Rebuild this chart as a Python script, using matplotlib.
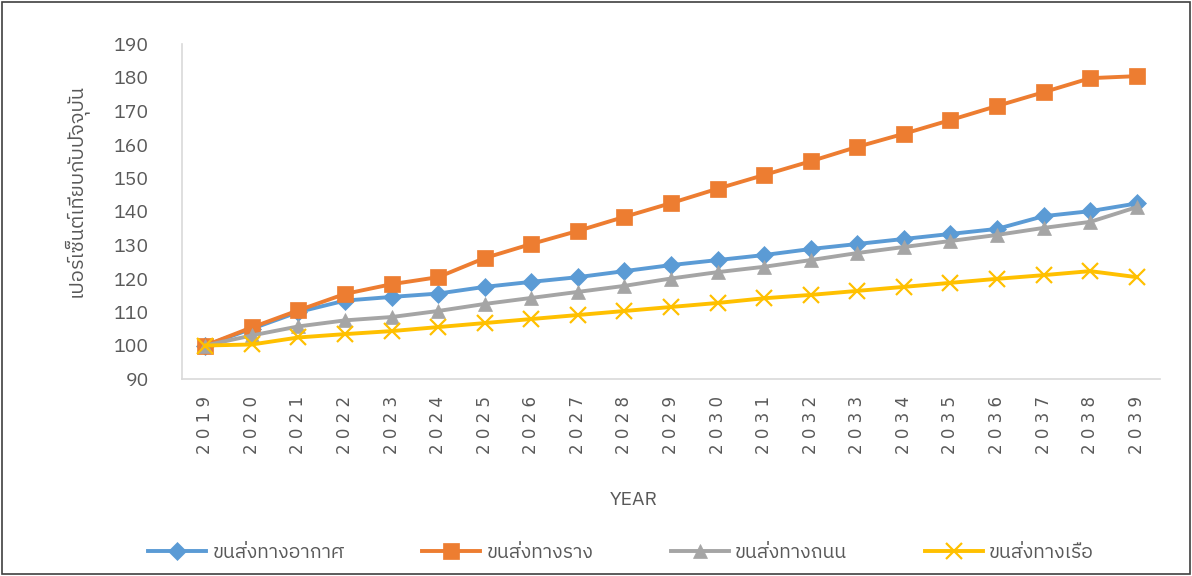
import matplotlib
matplotlib.use("Agg")
import matplotlib.pyplot as plt
from matplotlib import font_manager
from matplotlib.patches import Rectangle
from matplotlib.lines import Line2D

# ---- data -------------------------------------------------------------
years = list(range(2019, 2040))
air = [100, 105, 110, 113.4, 114.5, 115.5, 117.5, 119, 120.4, 122.2, 124,
       125.5, 127, 128.8, 130.3, 131.8, 133.3, 134.8, 138.6, 140.1, 142.4]
rail = [100, 105.4, 110.5, 115.4, 118.3, 120.4, 126.1, 130.3, 134.2, 138.4, 142.5,
        146.8, 150.9, 155, 159.3, 163.2, 167.3, 171.5, 175.6, 179.8, 180.4]
road = [100, 103, 105.7, 107.5, 108.5, 110.3, 112.4, 114.2, 116, 117.8, 120,
        121.9, 123.5, 125.5, 127.6, 129.4, 131.2, 133, 135.1, 136.9, 141.3]
sea = [100, 100.3, 102.4, 103.4, 104.3, 105.5, 106.7, 107.9, 109.1, 110.3, 111.5,
       112.7, 114.1, 115.1, 116.3, 117.5, 118.7, 119.9, 121, 122.2, 120.4]
series_names = ["ขนส่งทางอากาศ", "ขนส่งทางราง", "ขนส่งทางถนน", "ขนส่งทางเรือ"]
y_label = "เปอร์เซ็นต์เทียบกับปัจจุบัน"
x_label = "YEAR"
y_ticks = list(range(90, 191, 10))


# ---- pick an installed family that covers Thai ---------------------------
def thai_family():
    try:
        from fontTools.ttLib import TTFont
    except Exception:
        return None
    preferred = []
    others = []
    for fe in font_manager.fontManager.ttflist:
        try:
            tt = TTFont(fe.fname, fontNumber=0, lazy=True)
            cmap = tt.getBestCmap() or {}
            if 0x0E02 in cmap and 0x0E2A in cmap:
                if "Thai" in fe.name or "Looped" in fe.name:
                    preferred.append(fe.name)
                else:
                    others.append(fe.name)
        except Exception:
            continue
    for name in preferred + others:
        return name
    return None


tf = thai_family()
families = ([tf] if tf else []) + ["DejaVu Sans"]
plt.rcParams["font.family"] = families

TEXT = "#595959"
colors = ["#5B9BD5", "#ED7D31", "#A5A5A5", "#FFC000"]
markers = ["D", "s", "^", "x"]
msizes = [9.5, 11.5, 10.5, 11.5]

fig = plt.figure(figsize=(11.92, 5.76), dpi=100)
ax = fig.add_axes([182 / 1192, 1 - 379 / 576, (1160 - 182) / 1192, (379 - 44) / 576])

for vals, c, m, ms, name in zip([air, rail, road, sea], colors, markers, msizes, series_names):
    ax.plot(years, vals, color=c, lw=2.8, marker=m, markersize=ms,
            markeredgewidth=1.6 if m == "x" else 0.5, markeredgecolor=c,
            markerfacecolor=c, label=name, solid_joinstyle="round")

ax.set_ylim(90, 190)
ax.set_yticks(y_ticks)
ax.set_xlim(years[0] - 0.5, years[-1] + 0.5)
ax.set_xticks(years)
ax.set_xticklabels([" ".join(str(y)) for y in years], rotation=90,
                   fontsize=12, color=TEXT, family="DejaVu Sans")
ax.tick_params(axis="y", labelsize=14, colors=TEXT, length=0, pad=24)
ax.tick_params(axis="x", length=0, pad=12)
for lbl in ax.get_yticklabels():
    lbl.set_family(families)

for side in ["top", "right"]:
    ax.spines[side].set_visible(False)
for side in ["left", "bottom"]:
    ax.spines[side].set_color("#D9D9D9")
    ax.spines[side].set_linewidth(1.2)

fig.text(75 / 1192, 1 - 190 / 576, y_label, rotation=90, ha="center", va="center",
         fontsize=14.5, color=TEXT)
fig.text(634 / 1192, 1 - 500 / 576, x_label, ha="center", va="center",
         fontsize=14, color=TEXT)

handles = [Line2D([], [], color=c, lw=2.8, marker=m, markersize=ms,
                  markeredgewidth=1.6 if m == "x" else 0.5,
                  markeredgecolor=c, markerfacecolor=c)
           for c, m, ms in zip(colors, markers, msizes)]
leg = fig.legend(handles, series_names, loc="center", ncol=4,
                 bbox_to_anchor=(621 / 1192, 1 - 553 / 576), frameon=False,
                 fontsize=14, handlelength=3.0, columnspacing=4.0, handletextpad=0.3)
for t in leg.get_texts():
    t.set_color(TEXT)

fig.patches.append(Rectangle((0.002, 0.003), 0.996, 0.994, transform=fig.transFigure,
                             fill=False, edgecolor="#404040", lw=1.2))

fig.savefig("out.png", dpi=100)
